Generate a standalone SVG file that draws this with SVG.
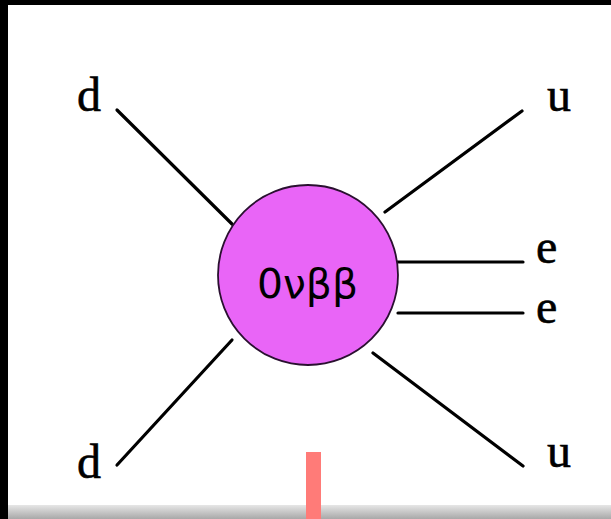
<svg xmlns="http://www.w3.org/2000/svg" width="611" height="519" viewBox="0 0 611 519">
<defs>
<linearGradient id="bar" x1="0" y1="0" x2="0" y2="1">
<stop offset="0" stop-color="#e6e6e6"/>
<stop offset="1" stop-color="#a8a8a8"/>
</linearGradient>
<style>
.lbl{font-family:"Liberation Serif","Times New Roman",serif;font-size:48px;fill:#000;stroke:#000;stroke-width:0.6}
.core{font-family:"DejaVu Sans","Liberation Sans",sans-serif;font-size:41px;fill:#000}
.ln{stroke:#000;stroke-width:3.2;stroke-linecap:round;fill:none}
</style>
</defs>
<rect x="0" y="0" width="611" height="519" fill="#000"/>
<rect x="8" y="5" width="603" height="501" fill="#fff"/>
<rect x="8" y="505" width="603" height="14" fill="url(#bar)"/>
<rect x="306" y="452" width="15" height="67" fill="#ff7b78"/>
<g id="connectors">
<line class="ln" x1="117" y1="110" x2="232" y2="224"/>
<line class="ln" x1="522" y1="111" x2="385" y2="212"/>
<line class="ln" x1="397" y1="262" x2="523" y2="262"/>
<line class="ln" x1="398" y1="313" x2="523" y2="313"/>
<line class="ln" x1="117" y1="465" x2="232" y2="340"/>
<line class="ln" x1="523" y1="466" x2="373" y2="353"/>
</g>
<g id="vertex">
<circle cx="308" cy="275" r="90" fill="#e965f7" stroke="#2a1030" stroke-width="1.8"/>
<text class="core" x="307.5" y="298" text-anchor="middle" textLength="101" lengthAdjust="spacingAndGlyphs">0νββ</text>
</g>
<g id="d1"><text class="lbl" x="77" y="111">d</text></g>
<g id="u1"><text class="lbl" x="547" y="111">u</text></g>
<g id="e1"><text class="lbl" x="536" y="263">e</text></g>
<g id="e2"><text class="lbl" x="536" y="323">e</text></g>
<g id="d2"><text class="lbl" x="77" y="478">d</text></g>
<g id="u2"><text class="lbl" x="547" y="467">u</text></g>
</svg>
